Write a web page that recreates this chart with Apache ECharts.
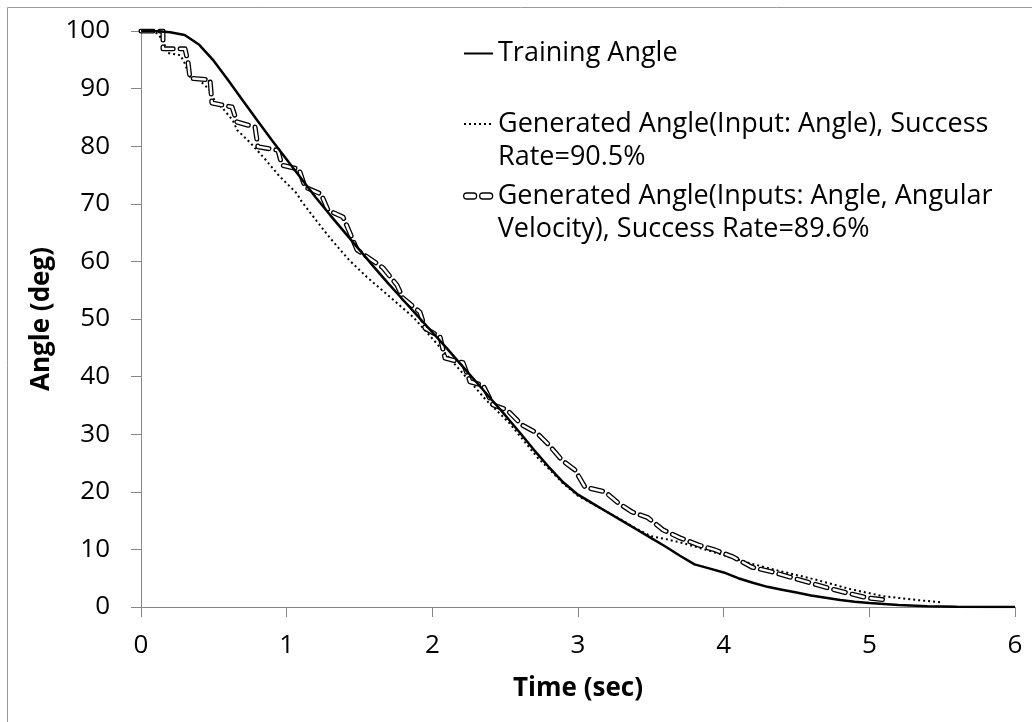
<!DOCTYPE html>
<html>
<head>
<meta charset="utf-8">
<script src="https://cdn.jsdelivr.net/npm/echarts@6/dist/echarts.min.js"></script>
<style>
  html, body { margin: 0; padding: 0; background: #fff; }
  #chart { width: 1032px; height: 722px; }
</style>
</head>
<body>
<div id="chart"></div>
<script>
// ---- Data ----
const xTicks = [0, 1, 2, 3, 4, 5, 6];
const yTicks = [0, 10, 20, 30, 40, 50, 60, 70, 80, 90, 100];

const seriesNames = [
  'Training Angle',
  'Generated Angle(Input: Angle), Success\nRate=90.5%',
  'Generated Angle(Inputs: Angle, Angular\nVelocity), Success Rate=89.6%'
];

// Training Angle (solid)
const trainT = [0, 0.1, 0.2, 0.3, 0.4, 0.5, 0.6, 0.7, 0.8, 0.9, 1.0, 1.1, 1.2, 1.3, 1.4, 1.5, 1.6, 1.7, 1.8, 1.9,
  2.0, 2.1, 2.2, 2.3, 2.4, 2.5, 2.6, 2.7, 2.8, 2.9, 3.0, 3.1, 3.2, 3.3, 3.4, 3.5, 3.6, 3.7, 3.8, 3.9,
  4.0, 4.1, 4.2, 4.3, 4.4, 4.5, 4.6, 4.7, 4.8, 4.9, 5.0, 5.2, 5.4, 5.6, 5.8, 6.0];
const trainY = [100, 100, 99.8, 99.3, 97.6, 94.8, 91.4, 87.9, 84.4, 81.0, 77.7, 74.4, 71.1, 68.0, 65.0, 62.0, 59.0, 56.1, 53.3, 50.5,
  47.7, 44.9, 42.0, 39.1, 36.2, 33.3, 30.3, 27.2, 24.3, 21.6, 19.5, 18.0, 16.5, 15.0, 13.5, 12.0, 10.5, 8.9, 7.4, 6.7,
  6.0, 5.0, 4.2, 3.5, 3.0, 2.5, 2.0, 1.6, 1.2, 0.9, 0.7, 0.35, 0.15, 0.05, 0.0, 0.0];

// Generated Angle (Input: Angle) - dotted
const dotT = [0, 0.1, 0.15, 0.18, 0.27, 0.3, 0.34, 0.4, 0.47, 0.51, 0.56, 0.63, 0.66, 0.75, 0.84, 0.95, 1.07, 1.1, 1.2, 1.3,
  1.43, 1.55, 1.71, 1.87, 2.0, 2.17, 2.37, 2.53, 2.72, 2.8, 2.9, 3.0, 3.1, 3.2, 3.3, 3.4, 3.5, 3.6, 3.72, 3.95,
  4.18, 4.41, 4.64, 4.87, 5.09, 5.33, 5.5];
const dotY = [100, 99.8, 98.5, 96.2, 95.8, 94.4, 91.8, 91.5, 89.8, 87.7, 86.6, 84.5, 82.8, 80.6, 78.1, 74.8, 71.8, 70.5, 67.2, 64.0,
  60.2, 57.3, 53.8, 50.3, 46.6, 41.7, 35.9, 31.9, 26.0, 24.0, 21.4, 19.3, 17.9, 16.5, 15.1, 13.6, 12.3, 11.8, 11.1, 9.4,
  7.6, 6.1, 4.7, 3.1, 1.9, 1.2, 0.8];

// Generated Angle (Inputs: Angle, Angular Velocity) - hollow dashed
const dashT = [0, 0.151, 0.151, 0.302, 0.323, 0.336, 0.474, 0.487, 0.625, 0.659, 0.783, 0.803, 0.940, 0.968, 1.085, 1.126, 1.236, 1.284, 1.387, 1.435,
  1.483, 1.661, 1.757, 1.799, 1.915, 1.950, 2.053, 2.087, 2.211, 2.259, 2.348, 2.416, 2.513, 2.616, 2.718, 2.794, 2.890, 2.979, 3.048, 3.185,
  3.274, 3.371, 3.480, 3.583, 3.700, 3.824, 3.940, 4.064, 4.195, 4.332, 4.455, 4.593, 4.716, 4.853, 4.984, 5.121];
const dashY = [100, 100, 96.9, 96.9, 94.6, 91.8, 91.5, 87.5, 86.8, 84.2, 83.3, 79.9, 79.3, 76.7, 76.0, 72.9, 71.7, 68.9, 67.7, 64.9,
  62.0, 58.9, 55.9, 53.6, 51.2, 48.4, 46.9, 43.2, 42.4, 39.1, 38.5, 35.1, 34.2, 31.6, 30.2, 28.3, 25.5, 23.8, 20.8, 20.0,
  18.1, 16.5, 15.5, 13.4, 12.0, 10.8, 9.9, 8.7, 6.9, 6.1, 5.2, 4.2, 3.3, 2.4, 1.6, 1.2];

const pairs = (xs, ys) => xs.map((x, i) => [x, ys[i]]);

const FONT = 'Open Sans';
const AXIS_GRAY = '#868686';

const chart = echarts.init(document.getElementById('chart'), null, { renderer: 'canvas' });

const legendText = { fontFamily: FONT, fontSize: 27, color: '#000' };

const option = {
  backgroundColor: '#fff',
  animation: false,
  graphic: [{
    type: 'rect', silent: true,
    shape: { x: 7.5, y: 7.5, width: 1040, height: 740 },
    style: { fill: 'none', stroke: '#9a9a9a', lineWidth: 1 }
  }],
  grid: { left: 141, right: 17, top: 31, bottom: 115, containLabel: false },
  xAxis: {
    type: 'value', min: 0, max: 6, interval: 1,
    name: 'Time (sec)', nameLocation: 'middle', nameGap: 69,
    nameTextStyle: { fontFamily: FONT, fontSize: 26, fontWeight: 'bold', color: '#000' },
    axisLine: { show: true, lineStyle: { color: AXIS_GRAY, width: 1 } },
    axisTick: { show: true, inside: false, length: 10, lineStyle: { color: AXIS_GRAY } },
    axisLabel: { fontFamily: FONT, fontSize: 26, color: '#000', margin: 26,
      formatter: v => xTicks.includes(v) ? String(v) : '' },
    splitLine: { show: false }
  },
  yAxis: {
    type: 'value', min: 0, max: 100, interval: 10,
    name: 'Angle (deg)', nameLocation: 'middle', nameGap: 82, nameRotate: 90,
    nameTextStyle: { fontFamily: FONT, fontSize: 26, fontWeight: 'bold', color: '#000' },
    axisLine: { show: true, lineStyle: { color: AXIS_GRAY, width: 1 } },
    axisTick: { show: true, inside: false, length: 10, lineStyle: { color: AXIS_GRAY } },
    axisLabel: { fontFamily: FONT, fontSize: 26, color: '#000', margin: 31,
      formatter: v => yTicks.includes(v) ? String(v) : '' },
    splitLine: { show: false }
  },
  legend: [
    {
      left: 463, top: 40, padding: 0, itemWidth: 29, itemHeight: 14, itemGap: 0,
      selectedMode: false,
      itemStyle: { opacity: 0 },
      data: [{ name: seriesNames[0] }],
      textStyle: Object.assign({}, legendText)
    },
    {
      left: 463, top: 74.5, padding: 0, itemWidth: 29, itemHeight: 14, itemGap: 0,
      selectedMode: false,
      itemStyle: { opacity: 0 },
      formatter: name => '\n' + name,
      data: [{ name: seriesNames[1] }],
      textStyle: Object.assign({ lineHeight: 33 }, legendText)
    },
    {
      left: 463, top: 146.5, padding: 0, itemWidth: 29, itemHeight: 6, itemGap: 0,
      selectedMode: false,
      formatter: name => '\n' + name,
      data: [{
        name: seriesNames[2],
        icon: 'path://M3,0 L10,0 Q13,0 13,3 Q13,6 10,6 L3,6 Q0,6 0,3 Q0,0 3,0 Z M19,0 L26,0 Q29,0 29,3 Q29,6 26,6 L19,6 Q16,6 16,3 Q16,0 19,0 Z',
        itemStyle: { color: '#fff', borderColor: '#000', borderWidth: 1.3, opacity: 1 }
      }],
      textStyle: Object.assign({ lineHeight: 33 }, legendText)
    }
  ],
  series: [
    {
      name: seriesNames[2], type: 'line', showSymbol: false, symbol: 'none', z: 3,
      itemStyle: { color: '#000' },
      data: pairs(dashT, dashY),
      lineStyle: { color: '#000', width: 5, type: [12, 7], cap: 'round', join: 'round' }
    },
    {
      name: 'dash-inner', type: 'line', showSymbol: false, symbol: 'none', z: 4,
      data: pairs(dashT, dashY),
      lineStyle: { color: '#fff', width: 2.4, type: [12, 7], cap: 'round', join: 'round' }
    },
    {
      name: seriesNames[1], type: 'line', showSymbol: false, symbol: 'none', z: 2,
      itemStyle: { color: '#000' },
      data: pairs(dotT, dotY),
      lineStyle: { color: '#000', width: 2, type: [2, 3], cap: 'butt' }
    },
    {
      name: seriesNames[0], type: 'line', showSymbol: false, symbol: 'none', z: 5,
      itemStyle: { color: '#000' },
      data: pairs(trainT, trainY),
      lineStyle: { color: '#000', width: 2.5, type: 'solid' }
    }
  ]
};

chart.setOption(option);
</script>
</body>
</html>
